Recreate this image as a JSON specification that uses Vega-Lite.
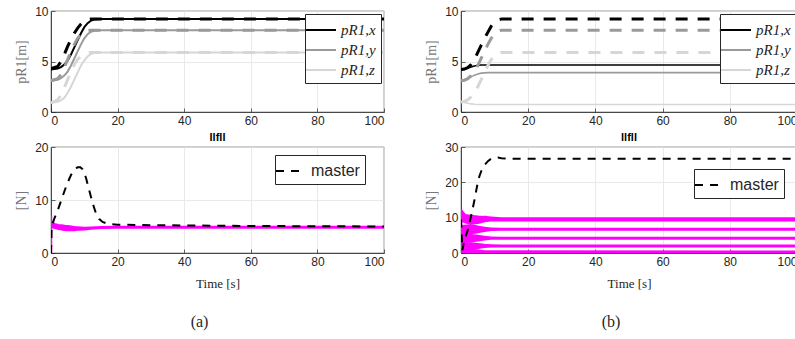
{
  "$schema": "https://vega.github.io/schema/vega-lite/v6.json",
  "background": "white",
  "padding": {"left": 14, "top": 4, "right": 0, "bottom": 0},
  "config": {
    "view": {"stroke": "#262626", "strokeWidth": 0.7},
    "axis": {
      "labelFont": "Liberation Sans", "labelFontSize": 12, "labelColor": "#262626",
      "domainColor": "#262626", "domainWidth": 0.8, "tickColor": "#262626", "tickSize": -4, "tickWidth": 0.7,
      "labelPadding": 7, "gridColor": "#e3e3e3", "gridWidth": 0.8,
      "titleFont": "Liberation Serif", "titleFontWeight": "normal", "titleFontSize": 13, "titleColor": "#262626"
    },
    "legend": {
      "orient": "none", "title": null, "strokeColor": "#262626", "fillColor": "white", "padding": 5,
      "symbolType": "M-1.5,0H1.5", "symbolSize": 400, "symbolStrokeWidth": 2, "rowPadding": 1, "labelOffset": 9,
      "labelFont": "Liberation Serif", "labelFontStyle": "italic", "labelFontSize": 15, "labelColor": "#262626", "cornerRadius": 0
    },
    "title": {"font": "Liberation Sans", "fontSize": 11, "fontWeight": "bold", "color": "#000", "offset": -2, "frame": "group"}
  },
  "datasets": {
    "posA": [
      {"t": 0, "v": 4.2, "s": "pR1,x", "k": "act"}, {"t": 2, "v": 4.3, "s": "pR1,x", "k": "act"}, {"t": 3, "v": 4.45, "s": "pR1,x", "k": "act"}, {"t": 4, "v": 4.7, "s": "pR1,x", "k": "act"}, {"t": 5, "v": 5.1, "s": "pR1,x", "k": "act"}, {"t": 6, "v": 5.7, "s": "pR1,x", "k": "act"}, {"t": 7, "v": 6.4, "s": "pR1,x", "k": "act"}, {"t": 8, "v": 7.1, "s": "pR1,x", "k": "act"}, {"t": 9, "v": 7.8, "s": "pR1,x", "k": "act"}, {"t": 10, "v": 8.4, "s": "pR1,x", "k": "act"}, {"t": 11, "v": 8.8, "s": "pR1,x", "k": "act"}, {"t": 12, "v": 9.05, "s": "pR1,x", "k": "act"}, {"t": 13, "v": 9.15, "s": "pR1,x", "k": "act"}, {"t": 15, "v": 9.2, "s": "pR1,x", "k": "act"}, {"t": 100, "v": 9.2, "s": "pR1,x", "k": "act"},
      {"t": 0, "v": 3.1, "s": "pR1,y", "k": "act"}, {"t": 2, "v": 3.2, "s": "pR1,y", "k": "act"}, {"t": 3, "v": 3.35, "s": "pR1,y", "k": "act"}, {"t": 4, "v": 3.6, "s": "pR1,y", "k": "act"}, {"t": 5, "v": 4.0, "s": "pR1,y", "k": "act"}, {"t": 6, "v": 4.6, "s": "pR1,y", "k": "act"}, {"t": 7, "v": 5.3, "s": "pR1,y", "k": "act"}, {"t": 8, "v": 6.0, "s": "pR1,y", "k": "act"}, {"t": 9, "v": 6.7, "s": "pR1,y", "k": "act"}, {"t": 10, "v": 7.3, "s": "pR1,y", "k": "act"}, {"t": 11, "v": 7.7, "s": "pR1,y", "k": "act"}, {"t": 12, "v": 7.95, "s": "pR1,y", "k": "act"}, {"t": 13, "v": 8.05, "s": "pR1,y", "k": "act"}, {"t": 15, "v": 8.1, "s": "pR1,y", "k": "act"}, {"t": 100, "v": 8.1, "s": "pR1,y", "k": "act"},
      {"t": 0, "v": 0.9, "s": "pR1,z", "k": "act"}, {"t": 2, "v": 1.0, "s": "pR1,z", "k": "act"}, {"t": 3, "v": 1.15, "s": "pR1,z", "k": "act"}, {"t": 4, "v": 1.4, "s": "pR1,z", "k": "act"}, {"t": 5, "v": 1.9, "s": "pR1,z", "k": "act"}, {"t": 6, "v": 2.5, "s": "pR1,z", "k": "act"}, {"t": 7, "v": 3.2, "s": "pR1,z", "k": "act"}, {"t": 8, "v": 3.9, "s": "pR1,z", "k": "act"}, {"t": 9, "v": 4.6, "s": "pR1,z", "k": "act"}, {"t": 10, "v": 5.1, "s": "pR1,z", "k": "act"}, {"t": 11, "v": 5.5, "s": "pR1,z", "k": "act"}, {"t": 12, "v": 5.75, "s": "pR1,z", "k": "act"}, {"t": 13, "v": 5.85, "s": "pR1,z", "k": "act"}, {"t": 15, "v": 5.9, "s": "pR1,z", "k": "act"}, {"t": 100, "v": 5.9, "s": "pR1,z", "k": "act"},
      {"t": 0, "v": 4.3, "s": "pR1,x", "k": "des"}, {"t": 2, "v": 4.5, "s": "pR1,x", "k": "des"}, {"t": 3, "v": 5.0, "s": "pR1,x", "k": "des"}, {"t": 4, "v": 5.7, "s": "pR1,x", "k": "des"}, {"t": 5, "v": 6.5, "s": "pR1,x", "k": "des"}, {"t": 6, "v": 7.2, "s": "pR1,x", "k": "des"}, {"t": 7, "v": 7.8, "s": "pR1,x", "k": "des"}, {"t": 8, "v": 8.3, "s": "pR1,x", "k": "des"}, {"t": 9, "v": 8.7, "s": "pR1,x", "k": "des"}, {"t": 10, "v": 9.0, "s": "pR1,x", "k": "des"}, {"t": 11, "v": 9.15, "s": "pR1,x", "k": "des"}, {"t": 12, "v": 9.2, "s": "pR1,x", "k": "des"}, {"t": 100, "v": 9.2, "s": "pR1,x", "k": "des"},
      {"t": 0, "v": 3.1, "s": "pR1,y", "k": "des"}, {"t": 2, "v": 3.3, "s": "pR1,y", "k": "des"}, {"t": 3, "v": 3.7, "s": "pR1,y", "k": "des"}, {"t": 4, "v": 4.4, "s": "pR1,y", "k": "des"}, {"t": 5, "v": 5.2, "s": "pR1,y", "k": "des"}, {"t": 6, "v": 6.0, "s": "pR1,y", "k": "des"}, {"t": 7, "v": 6.7, "s": "pR1,y", "k": "des"}, {"t": 8, "v": 7.3, "s": "pR1,y", "k": "des"}, {"t": 9, "v": 7.7, "s": "pR1,y", "k": "des"}, {"t": 10, "v": 7.95, "s": "pR1,y", "k": "des"}, {"t": 11, "v": 8.05, "s": "pR1,y", "k": "des"}, {"t": 12, "v": 8.1, "s": "pR1,y", "k": "des"}, {"t": 100, "v": 8.1, "s": "pR1,y", "k": "des"},
      {"t": 0, "v": 0.9, "s": "pR1,z", "k": "des"}, {"t": 2, "v": 1.2, "s": "pR1,z", "k": "des"}, {"t": 3, "v": 1.7, "s": "pR1,z", "k": "des"}, {"t": 4, "v": 2.4, "s": "pR1,z", "k": "des"}, {"t": 5, "v": 3.2, "s": "pR1,z", "k": "des"}, {"t": 6, "v": 4.0, "s": "pR1,z", "k": "des"}, {"t": 7, "v": 4.7, "s": "pR1,z", "k": "des"}, {"t": 8, "v": 5.2, "s": "pR1,z", "k": "des"}, {"t": 9, "v": 5.55, "s": "pR1,z", "k": "des"}, {"t": 10, "v": 5.75, "s": "pR1,z", "k": "des"}, {"t": 11, "v": 5.85, "s": "pR1,z", "k": "des"}, {"t": 12, "v": 5.9, "s": "pR1,z", "k": "des"}, {"t": 100, "v": 5.9, "s": "pR1,z", "k": "des"}
    ],
    "posB": [
      {"t": 0, "v": 4.2, "s": "pR1,x", "k": "act"}, {"t": 1, "v": 4.22, "s": "pR1,x", "k": "act"}, {"t": 2, "v": 4.32, "s": "pR1,x", "k": "act"}, {"t": 3, "v": 4.45, "s": "pR1,x", "k": "act"}, {"t": 4, "v": 4.55, "s": "pR1,x", "k": "act"}, {"t": 5, "v": 4.62, "s": "pR1,x", "k": "act"}, {"t": 6, "v": 4.65, "s": "pR1,x", "k": "act"}, {"t": 100, "v": 4.65, "s": "pR1,x", "k": "act"},
      {"t": 0, "v": 3.1, "s": "pR1,y", "k": "act"}, {"t": 1, "v": 3.15, "s": "pR1,y", "k": "act"}, {"t": 2, "v": 3.3, "s": "pR1,y", "k": "act"}, {"t": 3, "v": 3.48, "s": "pR1,y", "k": "act"}, {"t": 4, "v": 3.65, "s": "pR1,y", "k": "act"}, {"t": 5, "v": 3.77, "s": "pR1,y", "k": "act"}, {"t": 6, "v": 3.85, "s": "pR1,y", "k": "act"}, {"t": 8, "v": 3.9, "s": "pR1,y", "k": "act"}, {"t": 100, "v": 3.9, "s": "pR1,y", "k": "act"},
      {"t": 0, "v": 1.0, "s": "pR1,z", "k": "act"}, {"t": 1, "v": 0.95, "s": "pR1,z", "k": "act"}, {"t": 2, "v": 0.87, "s": "pR1,z", "k": "act"}, {"t": 3, "v": 0.8, "s": "pR1,z", "k": "act"}, {"t": 4, "v": 0.77, "s": "pR1,z", "k": "act"}, {"t": 5, "v": 0.75, "s": "pR1,z", "k": "act"}, {"t": 100, "v": 0.75, "s": "pR1,z", "k": "act"},
      {"t": 0, "v": 4.2, "s": "pR1,x", "k": "des"}, {"t": 1, "v": 4.25, "s": "pR1,x", "k": "des"}, {"t": 2, "v": 4.4, "s": "pR1,x", "k": "des"}, {"t": 3, "v": 4.7, "s": "pR1,x", "k": "des"}, {"t": 4, "v": 5.2, "s": "pR1,x", "k": "des"}, {"t": 5, "v": 5.9, "s": "pR1,x", "k": "des"}, {"t": 6, "v": 6.6, "s": "pR1,x", "k": "des"}, {"t": 7, "v": 7.3, "s": "pR1,x", "k": "des"}, {"t": 8, "v": 7.9, "s": "pR1,x", "k": "des"}, {"t": 9, "v": 8.5, "s": "pR1,x", "k": "des"}, {"t": 10, "v": 8.9, "s": "pR1,x", "k": "des"}, {"t": 11, "v": 9.1, "s": "pR1,x", "k": "des"}, {"t": 12, "v": 9.2, "s": "pR1,x", "k": "des"}, {"t": 100, "v": 9.2, "s": "pR1,x", "k": "des"},
      {"t": 0, "v": 3.1, "s": "pR1,y", "k": "des"}, {"t": 1, "v": 3.15, "s": "pR1,y", "k": "des"}, {"t": 2, "v": 3.3, "s": "pR1,y", "k": "des"}, {"t": 3, "v": 3.6, "s": "pR1,y", "k": "des"}, {"t": 4, "v": 4.0, "s": "pR1,y", "k": "des"}, {"t": 5, "v": 4.6, "s": "pR1,y", "k": "des"}, {"t": 6, "v": 5.3, "s": "pR1,y", "k": "des"}, {"t": 7, "v": 6.0, "s": "pR1,y", "k": "des"}, {"t": 8, "v": 6.7, "s": "pR1,y", "k": "des"}, {"t": 9, "v": 7.3, "s": "pR1,y", "k": "des"}, {"t": 10, "v": 7.8, "s": "pR1,y", "k": "des"}, {"t": 11, "v": 8.0, "s": "pR1,y", "k": "des"}, {"t": 12, "v": 8.1, "s": "pR1,y", "k": "des"}, {"t": 100, "v": 8.1, "s": "pR1,y", "k": "des"},
      {"t": 0, "v": 1.0, "s": "pR1,z", "k": "des"}, {"t": 1, "v": 1.05, "s": "pR1,z", "k": "des"}, {"t": 2, "v": 1.2, "s": "pR1,z", "k": "des"}, {"t": 3, "v": 1.5, "s": "pR1,z", "k": "des"}, {"t": 4, "v": 1.9, "s": "pR1,z", "k": "des"}, {"t": 5, "v": 2.5, "s": "pR1,z", "k": "des"}, {"t": 6, "v": 3.2, "s": "pR1,z", "k": "des"}, {"t": 7, "v": 3.9, "s": "pR1,z", "k": "des"}, {"t": 8, "v": 4.6, "s": "pR1,z", "k": "des"}, {"t": 9, "v": 5.2, "s": "pR1,z", "k": "des"}, {"t": 10, "v": 5.6, "s": "pR1,z", "k": "des"}, {"t": 11, "v": 5.8, "s": "pR1,z", "k": "des"}, {"t": 12, "v": 5.9, "s": "pR1,z", "k": "des"}, {"t": 100, "v": 5.9, "s": "pR1,z", "k": "des"}
    ],
    "masterA": [
      {"t": 0, "v": 0, "s": "master"}, {"t": 0.2, "v": 5, "s": "master"}, {"t": 1, "v": 6.5, "s": "master"}, {"t": 2, "v": 8, "s": "master"}, {"t": 3, "v": 9.8, "s": "master"}, {"t": 4, "v": 11.6, "s": "master"}, {"t": 5, "v": 13.3, "s": "master"}, {"t": 6, "v": 14.7, "s": "master"}, {"t": 7, "v": 15.7, "s": "master"}, {"t": 8, "v": 16.2, "s": "master"}, {"t": 8.8, "v": 16.2, "s": "master"}, {"t": 9.5, "v": 15.8, "s": "master"}, {"t": 10.5, "v": 14.2, "s": "master"}, {"t": 11.5, "v": 11.8, "s": "master"}, {"t": 12.5, "v": 9.4, "s": "master"}, {"t": 13.5, "v": 7.5, "s": "master"}, {"t": 14.5, "v": 6.4, "s": "master"}, {"t": 15.5, "v": 5.85, "s": "master"}, {"t": 17, "v": 5.5, "s": "master"}, {"t": 20, "v": 5.35, "s": "master"}, {"t": 30, "v": 5.25, "s": "master"}, {"t": 60, "v": 5.1, "s": "master"}, {"t": 100, "v": 5.0, "s": "master"}
    ],
    "slaveA": [
      {"t": 0.1, "v": 5.4, "w": 1.2}, {"t": 1, "v": 5.1, "w": 1.1}, {"t": 2, "v": 4.95, "w": 1.1}, {"t": 3, "v": 4.85, "w": 1.15}, {"t": 4, "v": 4.75, "w": 1.2}, {"t": 5, "v": 4.7, "w": 1.2}, {"t": 6, "v": 4.65, "w": 1.1}, {"t": 7, "v": 4.6, "w": 1.0}, {"t": 8, "v": 4.6, "w": 0.85}, {"t": 10, "v": 4.6, "w": 0.7}, {"t": 12, "v": 4.7, "w": 0.6}, {"t": 15, "v": 4.8, "w": 0.55}, {"t": 20, "v": 4.85, "w": 0.55}, {"t": 100, "v": 4.85, "w": 0.55}
    ],
    "spikeA": [{"t": 0, "v": 0}, {"t": 0, "v": 7}],
    "masterB": [
      {"t": 0, "v": 9.5, "s": "master"}, {"t": 0.4, "v": 0.8, "s": "master"}, {"t": 1, "v": 3.5, "s": "master"}, {"t": 2, "v": 6.5, "s": "master"}, {"t": 3, "v": 10.5, "s": "master"}, {"t": 3.5, "v": 12.6, "s": "master"}, {"t": 4, "v": 15, "s": "master"}, {"t": 4.5, "v": 17.5, "s": "master"}, {"t": 5, "v": 20, "s": "master"}, {"t": 5.5, "v": 21.8, "s": "master"}, {"t": 6, "v": 23.1, "s": "master"}, {"t": 7, "v": 24.9, "s": "master"}, {"t": 8, "v": 26, "s": "master"}, {"t": 9, "v": 26.7, "s": "master"}, {"t": 10, "v": 27, "s": "master"}, {"t": 11, "v": 27, "s": "master"}, {"t": 12, "v": 26.8, "s": "master"}, {"t": 15, "v": 26.7, "s": "master"}, {"t": 100, "v": 26.7, "s": "master"}
    ],
    "slaveB": [
      {"id": 1, "t": 0, "v": 11.5, "w": 1.5}, {"id": 1, "t": 0.5, "v": 10.5, "w": 2}, {"id": 1, "t": 1, "v": 9.8, "w": 2.5}, {"id": 1, "t": 3, "v": 9.4, "w": 2.8}, {"id": 1, "t": 5, "v": 9.4, "w": 2.4}, {"id": 1, "t": 7, "v": 9.6, "w": 1.8}, {"id": 1, "t": 9, "v": 9.6, "w": 1.4}, {"id": 1, "t": 12, "v": 9.5, "w": 1.2}, {"id": 1, "t": 100, "v": 9.5, "w": 1.2},
      {"id": 2, "t": 0, "v": 6, "w": 4}, {"id": 2, "t": 1, "v": 6.5, "w": 3}, {"id": 2, "t": 3, "v": 6.7, "w": 2.8}, {"id": 2, "t": 5, "v": 6.7, "w": 2.2}, {"id": 2, "t": 7, "v": 6.7, "w": 1.5}, {"id": 2, "t": 9, "v": 6.7, "w": 1.0}, {"id": 2, "t": 12, "v": 6.7, "w": 0.85}, {"id": 2, "t": 100, "v": 6.7, "w": 0.85},
      {"id": 3, "t": 0, "v": 4, "w": 3}, {"id": 3, "t": 1, "v": 4.2, "w": 2.6}, {"id": 3, "t": 3, "v": 4.2, "w": 2.4}, {"id": 3, "t": 5, "v": 4.2, "w": 1.9}, {"id": 3, "t": 7, "v": 4.2, "w": 1.3}, {"id": 3, "t": 9, "v": 4.2, "w": 0.95}, {"id": 3, "t": 12, "v": 4.2, "w": 0.85}, {"id": 3, "t": 100, "v": 4.2, "w": 0.85},
      {"id": 4, "t": 0, "v": 2, "w": 2.5}, {"id": 4, "t": 1, "v": 2, "w": 2.2}, {"id": 4, "t": 3, "v": 2, "w": 2.1}, {"id": 4, "t": 5, "v": 2, "w": 1.7}, {"id": 4, "t": 7, "v": 2, "w": 1.2}, {"id": 4, "t": 9, "v": 2, "w": 0.9}, {"id": 4, "t": 12, "v": 2, "w": 0.85}, {"id": 4, "t": 100, "v": 2, "w": 0.85},
      {"id": 5, "t": 0, "v": 0.5, "w": 1}, {"id": 5, "t": 1, "v": 0.4, "w": 1.5}, {"id": 5, "t": 3, "v": 0.4, "w": 1.6}, {"id": 5, "t": 5, "v": 0.35, "w": 1.3}, {"id": 5, "t": 7, "v": 0.3, "w": 1.0}, {"id": 5, "t": 9, "v": 0.3, "w": 0.9}, {"id": 5, "t": 100, "v": 0.3, "w": 0.85}
    ],
    "spikeB": [{"t": 0, "v": 0}, {"t": 0, "v": 12}]
  },
  "hconcat": [
    {
      "title": {"text": "(a)", "orient": "bottom", "font": "Liberation Serif", "fontSize": 16, "fontWeight": "normal", "color": "#262626", "offset": 24, "anchor": "middle", "frame": "bounds"},
      "bounds": "flush",
      "spacing": 35,
      "vconcat": [
        {
          "width": 333, "height": 101,
          "data": {"name": "posA"},
          "encoding": {
            "x": {"field": "t", "type": "quantitative", "scale": {"domain": [0, 100], "nice": false}, "axis": {"title": null, "values": [0, 20, 40, 60, 80, 100]}},
            "y": {"field": "v", "type": "quantitative", "scale": {"domain": [0, 10], "nice": false}, "axis": {"title": "pR1[m]", "values": [0, 5, 10], "titleColor": "#777", "titlePadding": 6, "titleFontSize": 14}},
            "color": {"field": "s", "type": "nominal", "scale": {"domain": ["pR1,x", "pR1,y", "pR1,z"], "range": ["#000000", "#9a9a9a", "#d6d6d6"]}, "legend": {"legendX": 254, "legendY": 3}}
          },
          "layer": [
            {"transform": [{"filter": "datum.k == 'act'"}], "mark": {"type": "line", "strokeWidth": 2, "clip": true}},
            {"transform": [{"filter": "datum.k == 'des'"}], "mark": {"type": "line", "strokeWidth": 3, "strokeDash": [12, 10], "clip": true}, "encoding": {"color": {"field": "s", "type": "nominal", "legend": null}}}
          ]
        },
        {
          "width": 333, "height": 106,
          "title": "llfll",
          "encoding": {
            "x": {"field": "t", "type": "quantitative", "scale": {"domain": [0, 100], "nice": false}, "axis": {"title": "Time [s]", "values": [0, 20, 40, 60, 80, 100], "titlePadding": 10}},
            "y": {"field": "v", "type": "quantitative", "scale": {"domain": [0, 20], "nice": false}, "axis": {"title": "[N]", "values": [0, 10, 20], "titleColor": "#777", "titlePadding": 6, "titleFontSize": 14}}
          },
          "layer": [
            {"data": {"name": "slaveA"}, "mark": {"type": "trail", "color": "#ff00ff", "clip": true}, "encoding": {"size": {"field": "w", "type": "quantitative", "scale": {"domain": [0, 10], "range": [0, 53], "zero": true}, "legend": null}}},
            {"data": {"name": "spikeA"}, "mark": {"type": "line", "color": "#ff00ff", "strokeWidth": 2.5, "clip": true}, "encoding": {"order": {"field": "v"}}},
            {"data": {"name": "masterA"}, "mark": {"type": "line", "strokeWidth": 2, "strokeDash": [8, 7], "clip": true},
             "encoding": {"color": {"field": "s", "type": "nominal", "scale": {"domain": ["master"], "range": ["#000000"]}, "legend": {"legendX": 224, "legendY": 8, "labelFont": "Liberation Sans", "labelFontStyle": "normal", "labelFontSize": 16, "symbolDash": [8, 7], "padding": 5, "rowPadding": 0}}}}
          ],
          "resolve": {"scale": {"size": "independent"}}
        }
      ],
      "resolve": {"scale": {"x": "independent", "y": "independent", "color": "independent", "size": "independent"}, "legend": {"color": "independent"}}
    },
    {
      "title": {"text": "(b)", "orient": "bottom", "font": "Liberation Serif", "fontSize": 16, "fontWeight": "normal", "color": "#262626", "offset": 24, "anchor": "middle", "frame": "bounds"},
      "bounds": "flush",
      "spacing": 35,
      "vconcat": [
        {
          "width": 336, "height": 101,
          "data": {"name": "posB"},
          "encoding": {
            "x": {"field": "t", "type": "quantitative", "scale": {"domain": [0, 100], "nice": false}, "axis": {"title": null, "values": [0, 20, 40, 60, 80, 100]}},
            "y": {"field": "v", "type": "quantitative", "scale": {"domain": [0, 10], "nice": false}, "axis": {"title": "pR1[m]", "values": [0, 5, 10], "titleColor": "#777", "titlePadding": 6, "titleFontSize": 14}},
            "color": {"field": "s", "type": "nominal", "scale": {"domain": ["pR1,x", "pR1,y", "pR1,z"], "range": ["#000000", "#9a9a9a", "#d6d6d6"]}, "legend": {"legendX": 259, "legendY": 3}}
          },
          "layer": [
            {"transform": [{"filter": "datum.k == 'act'"}], "mark": {"type": "line", "strokeWidth": 1.6, "clip": true}},
            {"transform": [{"filter": "datum.k == 'des'"}], "mark": {"type": "line", "strokeWidth": 3, "strokeDash": [12, 10], "clip": true}, "encoding": {"color": {"field": "s", "type": "nominal", "legend": null}}}
          ]
        },
        {
          "width": 336, "height": 106,
          "title": "llfll",
          "encoding": {
            "x": {"field": "t", "type": "quantitative", "scale": {"domain": [0, 100], "nice": false}, "axis": {"title": "Time [s]", "values": [0, 20, 40, 60, 80, 100], "titlePadding": 10}},
            "y": {"field": "v", "type": "quantitative", "scale": {"domain": [0, 30], "nice": false}, "axis": {"title": "[N]", "values": [0, 10, 20, 30], "titleColor": "#777", "titlePadding": 6, "titleFontSize": 14}}
          },
          "layer": [
            {"data": {"name": "slaveB"}, "mark": {"type": "trail", "color": "#ff00ff", "clip": true}, "encoding": {"detail": {"field": "id"}, "size": {"field": "w", "type": "quantitative", "scale": {"domain": [0, 10], "range": [0, 35.7], "zero": true}, "legend": null}}},
            {"data": {"name": "spikeB"}, "mark": {"type": "line", "color": "#ff00ff", "strokeWidth": 2.5, "clip": true}, "encoding": {"order": {"field": "v"}}},
            {"data": {"name": "masterB"}, "mark": {"type": "line", "strokeWidth": 2, "strokeDash": [8, 7], "clip": true},
             "encoding": {"color": {"field": "s", "type": "nominal", "scale": {"domain": ["master"], "range": ["#000000"]}, "legend": {"legendX": 233, "legendY": 22, "labelFont": "Liberation Sans", "labelFontStyle": "normal", "labelFontSize": 16, "symbolDash": [8, 7], "padding": 5, "rowPadding": 0}}}}
          ],
          "resolve": {"scale": {"size": "independent"}}
        }
      ],
      "resolve": {"scale": {"x": "independent", "y": "independent", "color": "independent", "size": "independent"}, "legend": {"color": "independent"}}
    }
  ],
  "spacing": 39,
  "resolve": {"scale": {"x": "independent", "y": "independent", "color": "independent", "size": "independent"}, "legend": {"color": "independent"}}
}
